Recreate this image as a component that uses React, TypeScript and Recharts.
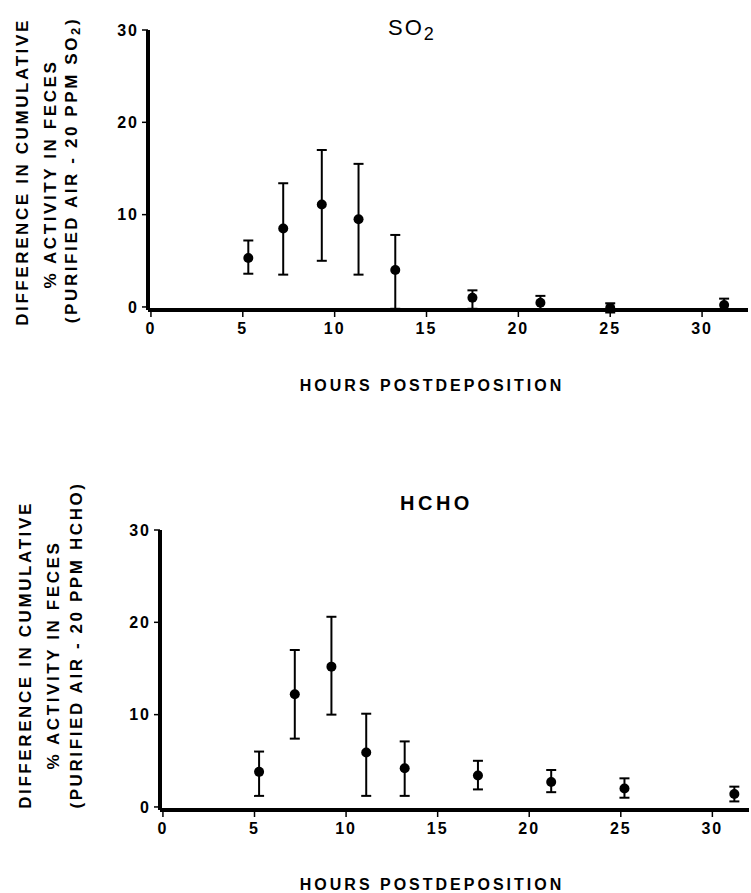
import React from 'react';
import { ScatterChart, Scatter, XAxis, YAxis, ErrorBar } from 'recharts';

const xTicks = [0, 5, 10, 15, 20, 25, 30];
const yTicks = [0, 10, 20, 30];

const so2Hours = [5.3, 7.2, 9.3, 11.3, 13.3, 17.5, 21.2, 25.0, 31.2];
const so2Mean = [5.3, 8.5, 11.1, 9.5, 4.0, 1.0, 0.45, -0.1, 0.2];
const so2Low = [3.6, 3.5, 5.0, 3.5, -0.2, -0.2, -0.3, -0.6, -0.4];
const so2High = [7.2, 13.4, 17.0, 15.5, 7.8, 1.8, 1.2, 0.4, 0.9];

const hchoHours = [5.25, 7.2, 9.2, 11.1, 13.2, 17.2, 21.2, 25.2, 31.2];
const hchoMean = [3.8, 12.2, 15.2, 5.9, 4.2, 3.4, 2.7, 2.0, 1.4];
const hchoLow = [1.2, 7.4, 10.0, 1.2, 1.2, 1.9, 1.6, 1.0, 0.6];
const hchoHigh = [6.0, 17.0, 20.6, 10.1, 7.1, 5.0, 4.0, 3.1, 2.2];

const FONT = "'Liberation Sans', Arial, Helvetica, sans-serif";

const build = (hours: number[], mean: number[], low: number[], high: number[]) =>
  hours.map((h, i) => ({ x: h, y: mean[i], err: [mean[i] - low[i], high[i] - mean[i]] }));

const so2Data = build(so2Hours, so2Mean, so2Low, so2High);
const hchoData = build(hchoHours, hchoMean, hchoLow, hchoHigh);

const dot = (props: any) => <circle cx={props.cx} cy={props.cy} r={5} fill="#000" />;

const XTick = (props: any) => (
  <text x={props.x} y={props.y} dy="0.8em" textAnchor="middle" fill="#000" fontSize={16} fontWeight="bold" fontFamily={FONT} letterSpacing={2}>
    {props.payload.value}
  </text>
);
const YTick = (props: any) => (
  <text x={props.x} y={props.y} dy="0.36em" textAnchor="end" fill="#000" fontSize={16} fontWeight="bold" fontFamily={FONT} letterSpacing={2}>
    {props.payload.value}
  </text>
);

function Panel({ data, height, margin, xMax }: any) {
  return (
    <ScatterChart width={751} height={height} margin={margin}>
      <XAxis
        type="number"
        dataKey="x"
        domain={[-0.16, xMax]}
        ticks={xTicks}
        allowDataOverflow
        height={30}
        axisLine={{ stroke: '#000', strokeWidth: 4 }}
        tickLine={{ stroke: '#000', strokeWidth: 1.5 }}
        tickSize={7}
        tickMargin={4}
        tick={XTick}
      />
      <YAxis
        type="number"
        dataKey="y"
        domain={[-0.33, 30]}
        ticks={yTicks}
        allowDataOverflow
        width={60}
        axisLine={{ stroke: '#000', strokeWidth: 4 }}
        tickLine={{ stroke: '#000', strokeWidth: 1.5 }}
        tickSize={6}
        tickMargin={3}
        tick={YTick}
      />
      <Scatter data={data} shape={dot} isAnimationActive={false}>
        <ErrorBar dataKey="err" direction="y" width={5} stroke="#000" strokeWidth={2} isAnimationActive={false} />
      </Scatter>
    </ScatterChart>
  );
}

function YLabel({ cx, cy, gas }: { cx: number[]; cy: number[]; gas: 'SO2' | 'HCHO' }) {
  const common = { fontFamily: FONT, fontWeight: 'bold' as any, fontSize: 17, letterSpacing: 2.6, fill: '#000', textAnchor: 'middle' as any, dominantBaseline: 'central' as any };
  return (
    <g>
      <text x={cx[0]} y={cy[0]} transform={`rotate(-90 ${cx[0]} ${cy[0]})`} {...common}>DIFFERENCE IN CUMULATIVE</text>
      <text x={cx[1]} y={cy[1]} transform={`rotate(-90 ${cx[1]} ${cy[1]})`} {...common}>% ACTIVITY IN FECES</text>
      {gas === 'SO2' ? (
        <text x={cx[2]} y={cy[2]} transform={`rotate(-90 ${cx[2]} ${cy[2]})`} {...common}>
          (PURIFIED AIR - 20 PPM SO<tspan dy={4} fontSize={13}>2</tspan><tspan dy={-4}>)</tspan>
        </text>
      ) : (
        <text x={cx[2]} y={cy[2]} transform={`rotate(-90 ${cx[2]} ${cy[2]})`} {...common}>(PURIFIED AIR - 20 PPM HCHO)</text>
      )}
    </g>
  );
}

export default function App() {
  return (
    <div style={{ position: 'absolute', left: 0, top: 0, width: 751, height: 893, background: '#fff', overflow: 'hidden' }}>
      <div style={{ position: 'absolute', left: 0, top: 0 }}>
        <Panel data={so2Data} height={420} margin={{ top: 30, right: 3, bottom: 80, left: 88 }} xMax={32.5} />
      </div>
      <div style={{ position: 'absolute', left: 0, top: 450 }}>
        <Panel data={hchoData} height={443} margin={{ top: 80, right: 2, bottom: 53, left: 100 }} xMax={32.0} />
      </div>
      <svg width={751} height={893} style={{ position: 'absolute', left: 0, top: 0, pointerEvents: 'none' }}>
        <text x={388} y={35} fontFamily={FONT} fontSize={22} letterSpacing={2} fill="#000">
          SO<tspan dy={5} fontSize={18}>2</tspan>
        </text>
        <text x={400} y={510} fontFamily={FONT} fontWeight="bold" fontSize={20} letterSpacing={3.5} fill="#000">HCHO</text>
        <YLabel cx={[22, 50, 71]} cy={[172, 174, 170]} gas="SO2" />
        <YLabel cx={[25, 53, 76]} cy={[655, 655, 645]} gas="HCHO" />
        <text x={432} y={391} textAnchor="middle" fontFamily={FONT} fontWeight="bold" fontSize={16} letterSpacing={3} fill="#000">HOURS POSTDEPOSITION</text>
        <text x={432} y={890} textAnchor="middle" fontFamily={FONT} fontWeight="bold" fontSize={16} letterSpacing={3} fill="#000">HOURS POSTDEPOSITION</text>
      </svg>
    </div>
  );
}
